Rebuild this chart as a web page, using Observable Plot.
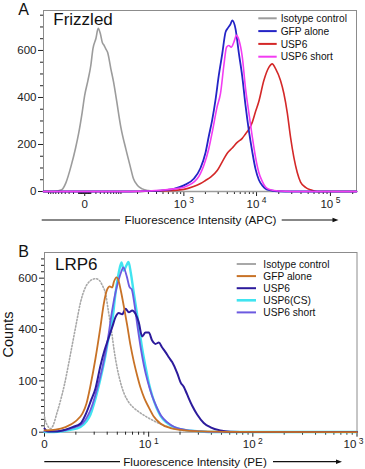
<!DOCTYPE html>
<html>
<head>
<meta charset="utf-8">
<script src="https://cdn.jsdelivr.net/npm/d3@7"></script>
<script src="https://cdn.jsdelivr.net/npm/@observablehq/plot@0.6"></script>
<style>
  html, body { margin: 0; padding: 0; background: #fff; }
  #page { position: relative; width: 365px; height: 469px; overflow: hidden;
          font-family: "Liberation Sans", Arial, Helvetica, sans-serif; }
  #page > svg { position: absolute; left: 0; }
</style>
</head>
<body>
<div id="page"></div>
<script>
// ---------- Panel A: Frizzled surface staining (APC) ----------
const aNames  = ["Isotype control", "GFP alone", "USP6", "USP6 short"];
const aColors = ["#9c9c9c", "#2424c6", "#d42828", "#f23cf2"];
const aXTicks = [0, 1e3, 1e4, 1e5];
const aXTickLabels = ["0", "10^3", "10^4", "10^5"];
const aYTicks = [0, 200, 400, 600];
const aYTickLabels = ["0", "200", "400", "600"];

// [intensity, counts]
const aIsotype = [[-125,0],[-80,0],[-50,8],[-38,38],[-25,111],[-16,183],[-10,247],[-4,336],[0,410],[5,472],[10,536],[14,608],[20,651],[25,694],[30,672],[35,634],[40,621],[44,608],[50,591],[60,523],[70,464],[80,396],[100,272],[125,179],[150,106],[170,55],[200,26],[240,11],[300,4],[400,1],[600,0],[225000,0]];
const aGfp = [[-125,0],[150,0],[300,2],[458,4],[718,11],[1000,26],[1379,54],[1711,100],[2006,165],[2228,235],[2483,305],[2756,390],[3058,494],[3407,585],[3783,678],[4065,695],[4426,712],[4670,728],[5177,692],[5741,590],[6391,490],[7090,365],[7857,260],[8740,170],[9696,95],[10740,50],[11950,26],[13240,12],[15480,5],[20000,1],[30000,0],[225000,0]];
const aUsp6 = [[-125,0],[200,0],[458,2],[1000,9],[1370,21],[1711,34],[2006,47],[2380,62],[2909,89],[3407,126],[3970,162],[4670,185],[5462,209],[6391,226],[7090,245],[7857,264],[8740,294],[9696,340],[10740,383],[12560,472],[14680,528],[16320,543],[18100,523],[21130,472],[23460,417],[26070,336],[28900,230],[32020,145],[35590,81],[39470,40],[46080,18],[53900,7],[66390,0],[225000,0]];
const aUsp6Short = [[-125,0],[150,0],[300,2],[458,5],[718,11],[1000,18],[1538,54],[1900,111],[2228,182],[2483,252],[2909,362],[3228,417],[3587,536],[3903,614],[4195,621],[4526,614],[4909,635],[5343,664],[5777,643],[6391,574],[7090,438],[7857,336],[8740,234],[9696,145],[10740,81],[11950,43],[13240,19],[15480,7],[19870,2],[30000,0],[225000,0]];

// ---------- Panel B: LRP6 surface staining (PE) ----------
const bNames  = ["Isotype control", "GFP alone", "USP6", "USP6(CS)", "USP6 short"];
const bColors = ["#a8a8a8", "#c87226", "#2c1b9c", "#40e4f0", "#6c5ae0"];
const bXTicks = [1, 10, 100, 1000];
const bXTickLabels = ["0", "10^1", "10^2", "10^3"];
const bYTicks = [0, 200, 400, 600];
const bYTickLabels = ["0", "100", "400", "600"];

const bIsotype = [[1.0,60],[1.02,45],[1.069,26],[1.142,14],[1.22,30],[1.304,69],[1.424,123],[1.555,186],[1.70,264],[1.857,346],[2.028,427],[2.215,505],[2.42,556],[2.644,583],[2.888,595],[3.118,598],[3.366,591],[3.598,571],[3.846,542],[4.111,470],[4.394,395],[4.697,310],[5.02,244],[5.366,194],[5.861,147],[6.403,118],[7.14,96],[8.33,75],[10.41,51],[12.96,32],[16.2,18],[20.2,9],[28.1,3],[39.3,1],[100,0.5],[1000,0.5]];
const bGfp = [[1.0,7],[1.275,10],[1.591,20],[1.984,42],[2.316,73],[2.53,112],[2.764,182],[3.086,287],[3.449,412],[3.71,501],[3.999,556],[4.233,568],[4.465,564],[4.646,587],[4.911,603],[5.13,591],[5.425,548],[5.799,486],[6.224,416],[6.695,338],[7.199,275],[7.754,221],[8.343,174],[9.12,131],[10.05,96],[11.19,61],[12.96,34],[16.2,16],[20.2,9],[31.4,3],[60.9,1],[1000,0.5]];
const bUsp6 = [[1.0,14],[1.03,8],[1.092,3],[1.333,3],[1.591,10],[1.857,20],[2.215,34],[2.53,77],[2.793,123],[3.086,170],[3.449,260],[3.764,318],[4.14,369],[4.49,412],[4.802,448],[5.166,464],[5.567,459],[5.997,481],[6.453,467],[6.946,474],[7.473,461],[8.041,427],[8.66,373],[9.318,388],[10.03,388],[10.8,357],[11.62,344],[12.51,349],[13.48,330],[14.5,312],[15.6,292],[16.81,273],[18.84,229],[20.24,194],[21.78,176],[23.4,147],[26.1,104],[29.2,69],[33.8,36],[39.3,19],[48.7,7],[60.9,2],[94.6,0.5],[1000,0.5]];
const bUsp6CS = [[1.0,0.5],[1.424,3],[1.776,9],[2.215,20],[2.53,42],[2.764,69],[3.086,131],[3.449,209],[3.764,279],[4.111,365],[4.465,430],[4.802,540],[5.166,622],[5.485,661],[5.766,630],[6.052,646],[6.403,663],[6.731,622],[7.139,552],[7.64,474],[8.165,396],[8.726,318],[9.318,256],[10.06,190],[10.88,139],[11.88,96],[12.96,65],[14.82,38],[16.93,22],[20.24,12],[25.2,6],[31.4,3],[43.8,1],[1000,0.5]];
const bUsp6Short = [[1.0,3],[1.424,5],[1.898,18],[2.316,34],[2.644,69],[2.888,108],[3.205,170],[3.58,248],[3.999,346],[4.465,475],[4.802,544],[5.166,595],[5.446,624],[5.722,642],[6.161,607],[6.54,566],[6.878,556],[7.308,497],[7.808,412],[8.407,326],[9.004,260],[9.734,201],[10.75,143],[11.88,100],[13.23,63],[15.14,38],[17.69,20],[22.5,9],[31.4,3],[43.8,1],[1000,0.5]];

// ---------- minor tick positions ----------
const aXMinor = [
  ...d3.range(-100, 0, 10), ...d3.range(-9, 0, 1), ...d3.range(1, 10, 1),
  ...d3.range(10, 100, 10), ...d3.range(100, 1000, 100),
  ...d3.range(2000, 10000, 1000), ...d3.range(20000, 100000, 10000), 200000
];
const aYMinor = d3.range(50, 770, 50).filter(v => v % 200 !== 0);
const bXMinor = [1, 10, 100].flatMap(p => d3.range(2, 10).map(k => k * p));
const bYMinor = d3.range(25, 700, 25).filter(v => v % 200 !== 0);

const font = '"Liberation Sans", Arial, Helvetica, sans-serif';
const label = (ticks, labels) => d => labels[ticks.indexOf(d)];
const blank = () => "";

// turns "10^3" tick labels into 10 with a raised exponent
function superscriptTicks(svg, lastShift = 0) {
  const texts = d3.select(svg).selectAll('g[aria-label="x-axis tick label"] text')
    .filter(function () { return this.textContent !== ""; });
  texts.each(function () {
    const m = /^(\d+)\^(\d+)$/.exec(this.textContent);
    if (!m) return;
    const t = d3.select(this);
    t.text(null);
    t.append("tspan").text(m[1]);
    t.append("tspan").attr("dx", "2.5").attr("dy", "-4.3").attr("font-size", "0.74em").text(m[2]);
  });
  // keep the rightmost label inside the page
  const nodes = texts.nodes();
  if (lastShift && nodes.length) d3.select(nodes[nodes.length - 1]).attr("dx", lastShift);
}

const line = (data, color, width, extra = {}) =>
  Plot.line(data, {x: d => d[0], y: d => d[1], stroke: color, strokeWidth: width,
                   curve: "monotone-x", strokeLinejoin: "round", ...extra});

const chartA = Plot.plot({
  width: 365, height: 230,
  marginLeft: 43, marginRight: 9, marginTop: 10, marginBottom: 39,
  style: {fontFamily: font, fontSize: "11.5px", color: "#222", background: "none", overflow: "visible"},
  x: {type: "symlog", constant: 48, domain: [-125, 225000], label: null},
  y: {domain: [0, 770], label: null},
  marks: [
    Plot.frame({stroke: "#8c8c8c"}),
    Plot.axisX(aXMinor, {tickSize: 3, tickFormat: blank, label: null}),
    Plot.axisX(aXTicks, {tickSize: 5, tickPadding: 3, tickFormat: label(aXTicks, aXTickLabels), label: null}),
    Plot.axisY(aYMinor, {tickSize: 3, tickFormat: blank, label: null}),
    Plot.axisY(aYTicks, {tickSize: 5, tickPadding: 2, tickFormat: label(aYTicks, aYTickLabels), label: null}),
    line(aIsotype, aColors[0], 1.6),
    line(aUsp6, aColors[2], 1.6),
    line(aGfp, aColors[1], 1.8),
    line(aUsp6Short, aColors[3], 1.6)
  ]
});

const chartB = Plot.plot({
  width: 365, height: 239,
  marginLeft: 44, marginRight: 8.5, marginTop: 22, marginBottom: 37.3,
  style: {fontFamily: font, fontSize: "11.5px", color: "#222", background: "none", overflow: "visible"},
  x: {type: "log", domain: [1, 1000], label: null},
  y: {domain: [0, 700], label: null},
  marks: [
    Plot.frame({stroke: "#8c8c8c"}),
    Plot.axisX(bXMinor, {tickSize: 3, tickFormat: blank, label: null}),
    Plot.axisX(bXTicks, {tickSize: 5, tickPadding: 3, tickFormat: label(bXTicks, bXTickLabels), label: null}),
    Plot.axisY(bYMinor, {tickSize: 3, tickFormat: blank, label: null}),
    Plot.axisY(bYTicks, {tickSize: 5, tickPadding: 2, tickFormat: label(bYTicks, bYTickLabels), label: null}),
    line(bIsotype, bColors[0], 1.6, {strokeDasharray: "1.3 2"}),
    line(bUsp6CS, bColors[3], 2.4),
    line(bUsp6Short, bColors[4], 1.8),
    line(bUsp6, bColors[2], 2),
    line(bGfp, bColors[1], 1.8)
  ]
});

superscriptTicks(chartA);
superscriptTicks(chartB, -3.5);

const page = document.getElementById("page");
chartA.style.top = "0px";
chartB.style.top = "230px";
page.append(chartA, chartB);

// ---------- panel labels, legends and axis titles ----------
const over = d3.select(page).append("svg")
  .attr("width", 365).attr("height", 469)
  .style("top", "0px").style("pointer-events", "none")
  .attr("font-family", font).attr("fill", "#111");

const addText = (x, y, s, size, anchor = "start") =>
  over.append("text").attr("x", x).attr("y", y).attr("font-size", size)
      .attr("text-anchor", anchor).text(s);

addText(18.3, 15, "A", 16);
addText(53.3, 25, "Frizzled", 17);
addText(18.3, 257.3, "B", 16);
addText(55, 270, "LRP6", 17);

over.append("text")
  .attr("transform", "translate(13,334.5) rotate(-90)")
  .attr("text-anchor", "middle").attr("font-size", 14.5).text("Counts");

function legend(names, colors, x1, x2, tx, y0, step, widths) {
  names.forEach((n, i) => {
    const cy = y0 + i * step;
    over.append("line").attr("x1", x1).attr("x2", x2).attr("y1", cy).attr("y2", cy)
      .attr("stroke", colors[i]).attr("stroke-width", widths[i]);
    addText(tx, cy + 3.65, n, 10.2);
  });
}
legend(aNames, aColors, 258.3, 276.7, 280.7, 18.3, 12.8, [2, 2, 2, 2]);
legend(bNames, bColors, 236.7, 256, 263.3, 264, 12.1, [2, 2, 2, 2.6, 2]);

function axisTitle(text, cx, base, ly, l1, l2, r1, r2) {
  addText(cx, base, text, 11.7, "middle");
  over.append("line").attr("x1", l1).attr("x2", l2).attr("y1", ly).attr("y2", ly)
    .attr("stroke", "#111").attr("stroke-width", 1.2);
  over.append("line").attr("x1", r1).attr("x2", r2 - 5).attr("y1", ly).attr("y2", ly)
    .attr("stroke", "#111").attr("stroke-width", 1.2);
  over.append("path")
    .attr("d", `M${r2 - 6},${ly - 2.3}L${r2},${ly}L${r2 - 6},${ly + 2.3}Z`).attr("fill", "#111");
}
axisTitle("Fluorescence Intensity (APC)", 200.5, 224.1, 220, 41.7, 120, 281.7, 338.5);
axisTitle("Fluorescence Intensity (PE)", 195, 465.5, 461.7, 44.3, 120, 273, 342);
</script>
</body>
</html>
